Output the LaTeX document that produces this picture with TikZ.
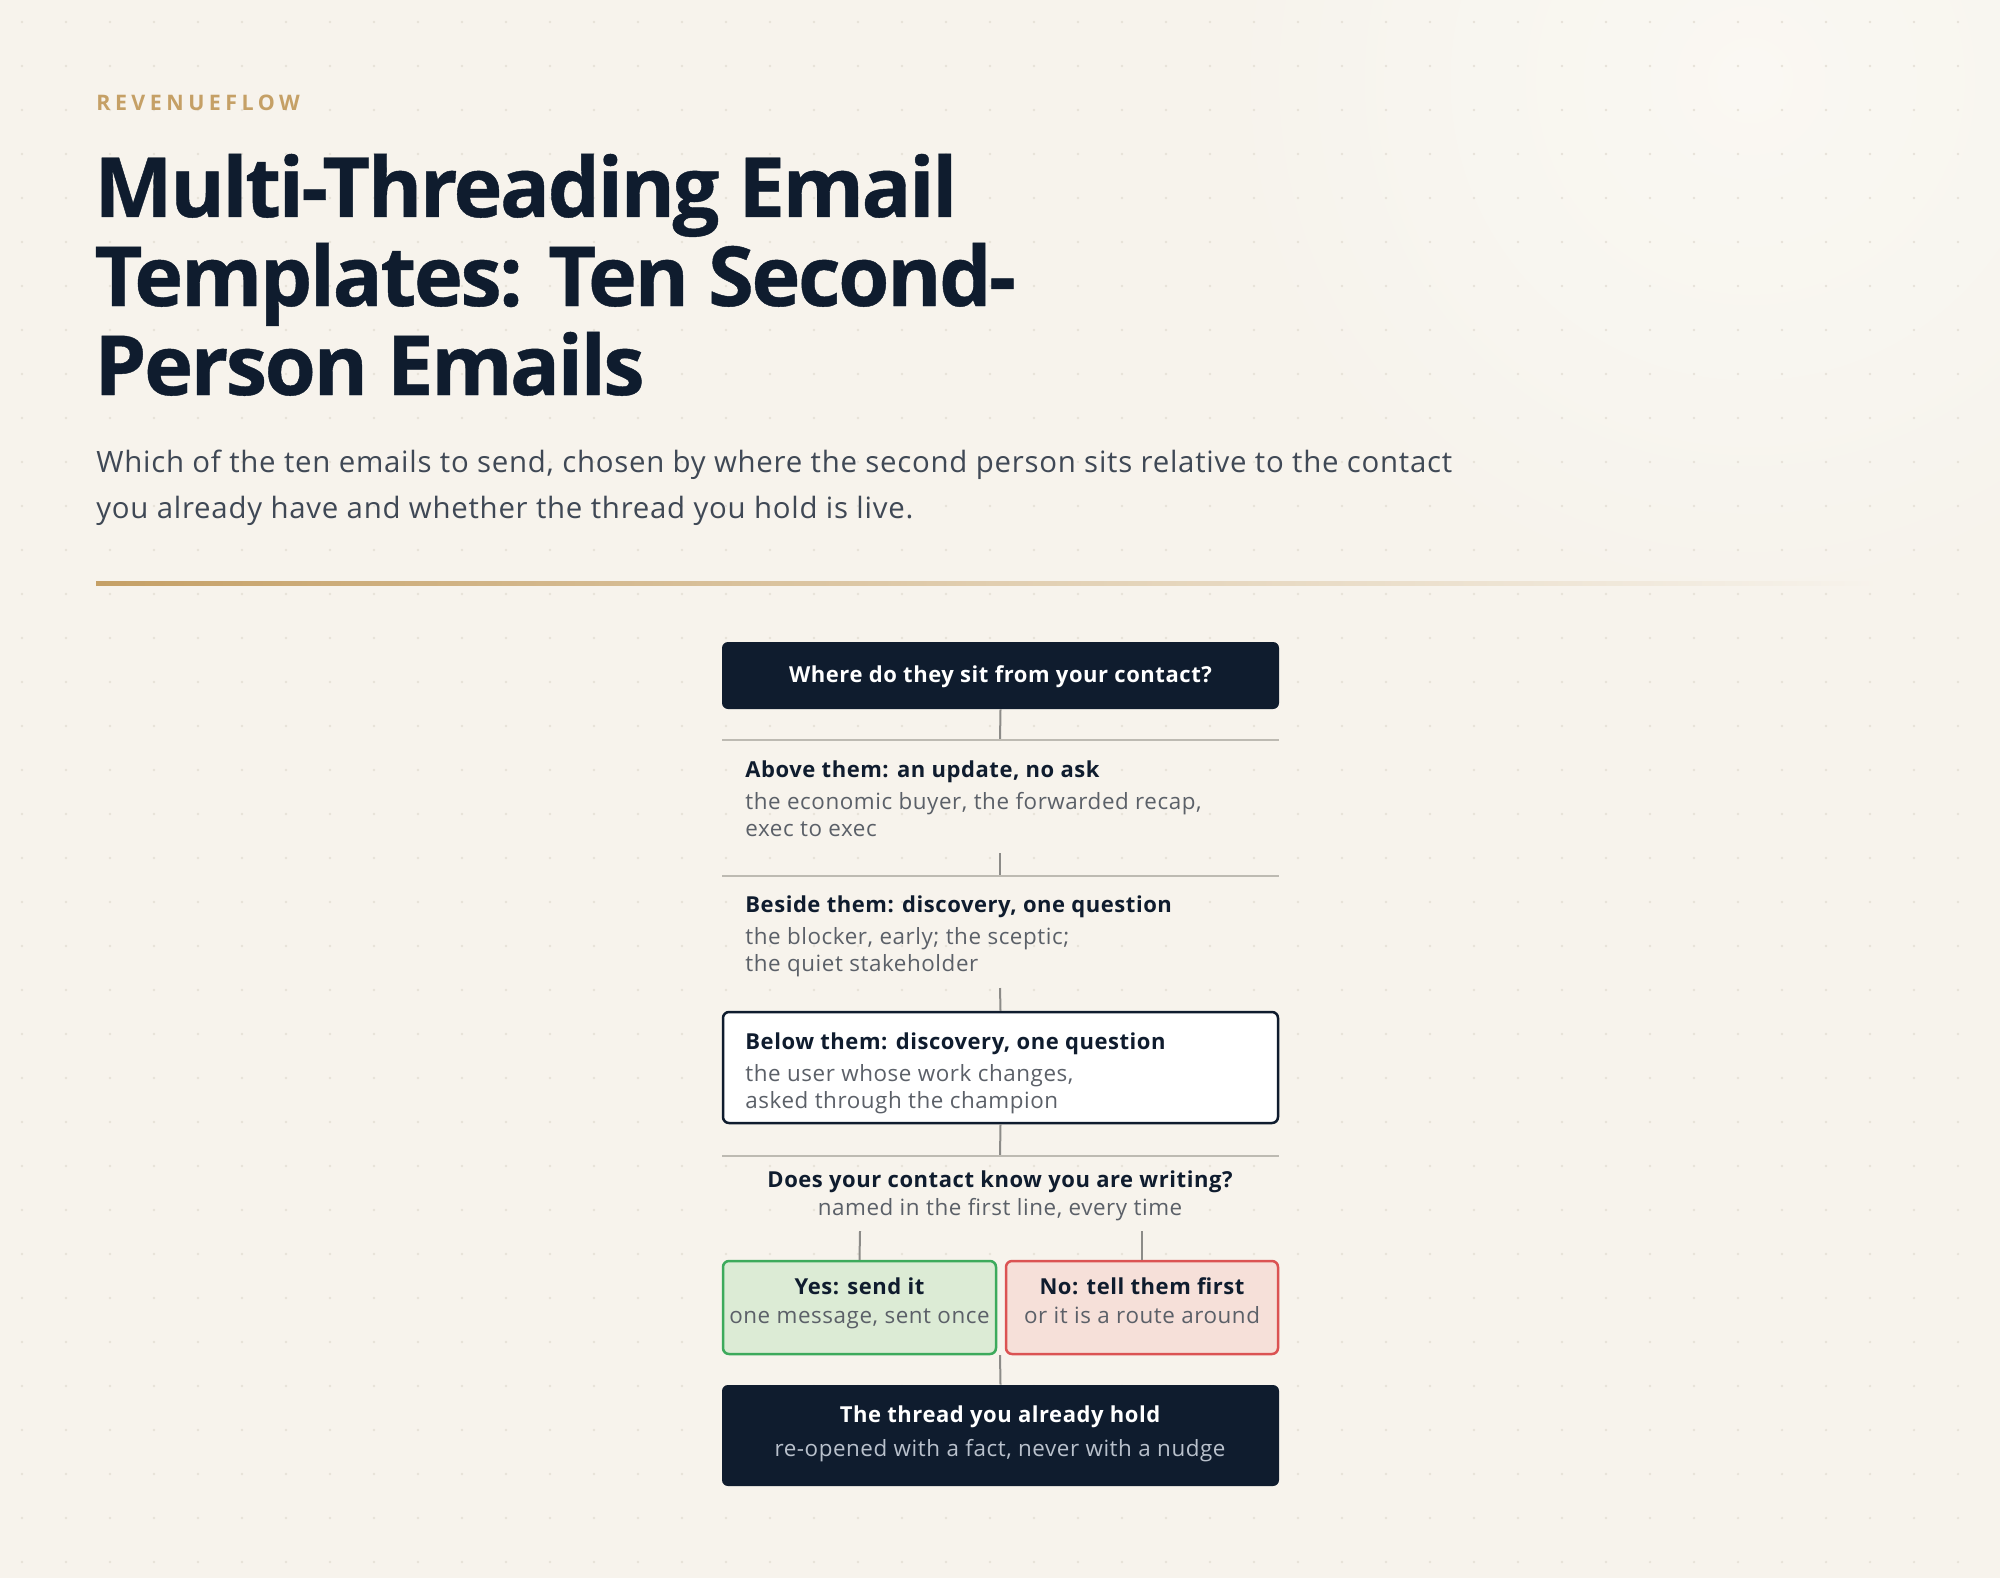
\documentclass[tikz,border=0pt]{standalone}
\usepackage{fontspec}
\setmainfont{Open Sans}
\newfontfamily\titlefont{Open Sans}[LetterSpace=-3, BoldFeatures={FakeBold=0.5}]
\newfontfamily\brandfont{Open Sans}[LetterSpace=21]
\newfontfamily\flowfont{Open Sans}[LetterSpace=2.5]
\usetikzlibrary{positioning}

\definecolor{paper}{HTML}{F7F3EC}
\definecolor{sheen}{HTML}{FBFAF5}
\definecolor{dotgray}{HTML}{E7E2D8}
\definecolor{navy}{HTML}{0F1C2E}
\definecolor{gold}{HTML}{C5A066}
\definecolor{slate}{HTML}{3F4855}
\definecolor{subgray}{HTML}{5B6068}
\definecolor{rulegray}{HTML}{BDBAB2}
\definecolor{linkgray}{HTML}{8C8B88}
\definecolor{yesfill}{HTML}{DCEBD5}
\definecolor{yesline}{HTML}{3DAA5C}
\definecolor{nofill}{HTML}{F6E0D9}
\definecolor{noline}{HTML}{DB5353}
\definecolor{palegray}{HTML}{B9C1CC}

\tikzset{
    darkbox/.style={fill=navy, rounded corners=3pt, minimum width=278.5pt, inner sep=0pt},
    whitebox/.style={fill=white, draw=navy, line width=1.25pt, rounded corners=3pt,
        minimum width=277.5pt, minimum height=55.5pt, inner sep=0pt},
    yesbox/.style={fill=yesfill, draw=yesline, line width=1.25pt, rounded corners=3pt,
        minimum width=136.5pt, minimum height=46.5pt, inner sep=0pt},
    nobox/.style={fill=nofill, draw=noline, line width=1.25pt, rounded corners=3pt,
        minimum width=136pt, minimum height=46.5pt, inner sep=0pt},
    headtext/.style={font=\flowfont\bfseries\fontsize{11}{13}\selectfont, text=navy, inner sep=0pt},
    subtext/.style={font=\flowfont\fontsize{11.2}{13}\selectfont, text=subgray, inner sep=0pt},
    link/.style={draw=linkgray, line width=1pt},
    rowrule/.style={draw=rulegray, line width=1.2pt}
}

\begin{document}
\begin{tikzpicture}[x=0.5pt,y=-0.5pt]
\useasboundingbox (0,0) rectangle (2000,1578);

% background
\fill[paper] (0,0) rectangle (2000,1578);
\shade[inner color=sheen, outer color=paper, opacity=0.8] (1750,80) circle (600);
\foreach \i in {0,...,45}{
  \foreach \j in {0,...,35}{
    \fill[dotgray] (22+44*\i,22+44*\j) circle (1.3);
  }
}

% header
\node[anchor=base west, inner sep=0pt, text=gold, font=\brandfont\bfseries\fontsize{10.7}{12}\selectfont] (brand) at (96,111) {REVENUEFLOW};
\node[anchor=base west, inner sep=0pt, text=navy, font=\titlefont\bfseries\fontsize{41.5}{45}\selectfont] (title1) at (94,217) {Multi-Threading Email};
\node[anchor=base west, inner sep=0pt, text=navy, font=\titlefont\bfseries\fontsize{41.5}{45}\selectfont] (title2) at (94,306) {Templates: Ten Second-};
\node[anchor=base west, inner sep=0pt, text=navy, font=\titlefont\bfseries\fontsize{41.5}{45}\selectfont] (title3) at (94,395) {Person Emails};
\node[anchor=base west, inner sep=0pt, text=slate, font=\flowfont\fontsize{14.7}{16}\selectfont] (lede1) at (96,472) {Which of the ten emails to send, chosen by where the second person sits relative to the contact};
\node[anchor=base west, inner sep=0pt, text=slate, font=\flowfont\fontsize{14.7}{16}\selectfont] (lede2) at (96,518) {you already have and whether the thread you hold is live.};
\shade[left color=gold, right color=paper, middle color=gold!45!paper] (96,581) rectangle (1880,585);

% question
\node[darkbox, minimum height=33.5pt] (where) at (1000.5,675.5) {};
\node[headtext, text=white] (where-t) at ([yshift=-0.5pt]where.center) {Where do they sit from your contact?};
\coordinate (r1) at (1000,740);
\draw[link] (where.south) -- (r1);
\draw[rowrule] (722,740) -- (1279,740);

% above
\node[headtext, anchor=base west] (above-t) at (745,777) {Above them: an update, no ask};
\node[subtext, anchor=base west] (above-s1) at (745,809) {the economic buyer, the forwarded recap,};
\node[subtext, anchor=base west] (above-s2) at (745,836) {exec to exec};
\coordinate (a1) at (1000,853);
\coordinate (r2) at (1000,876);
\draw[link] (a1) -- (r2);
\draw[rowrule] (722,876) -- (1279,876);

% beside
\node[headtext, anchor=base west] (beside-t) at (745,912) {Beside them: discovery, one question};
\node[subtext, anchor=base west] (beside-s1) at (745,944) {the blocker, early; the sceptic;};
\node[subtext, anchor=base west] (beside-s2) at (745,971) {the quiet stakeholder};
\coordinate (b1) at (1000,988);

% below
\node[whitebox] (below) at (1000.5,1067.5) {};
\draw[link] (b1) -- (below.north);
\node[headtext, anchor=base west] (below-t) at (745,1049) {Below them: discovery, one question};
\node[subtext, anchor=base west] (below-s1) at (745,1081) {the user whose work changes,};
\node[subtext, anchor=base west] (below-s2) at (745,1108) {asked through the champion};
\coordinate (r3) at (1000,1156);
\draw[link] (below.south) -- (r3);
\draw[rowrule] (722,1156) -- (1279,1156);

% does your contact know
\node[headtext, anchor=base] (know-t) at (1000,1187) {Does your contact know you are writing?};
\node[subtext, anchor=base] (know-s) at (1000,1215) {named in the first line, every time};
\coordinate (k1) at (860,1231);
\coordinate (k2) at (1142,1231);

% yes / no
\node[yesbox] (yes) at (859.5,1307.5) {};
\node[nobox] (no) at (1142,1307.5) {};
\draw[link] (k1) -- (yes.north);
\draw[link] (k2) -- (no.north);
\node[headtext, anchor=base] (yes-t) at (859.5,1294) {Yes: send it};
\node[subtext, anchor=base] (yes-s) at (859.5,1323) {one message, sent once};
\node[headtext, anchor=base] (no-t) at (1142,1294) {No: tell them first};
\node[subtext, anchor=base] (no-s) at (1142,1323) {or it is a route around};

% thread
\node[darkbox, minimum height=50.5pt] (thread) at (1000.5,1435.5) {};
\coordinate (y1) at (1000,1355);
\draw[link] (y1) -- (thread.north);
\node[headtext, text=white, anchor=base] (thread-t) at (1000,1422) {The thread you already hold};
\node[subtext, text=palegray, anchor=base] (thread-s) at (1000,1456) {re-opened with a fact, never with a nudge};
\end{tikzpicture}
\end{document}
